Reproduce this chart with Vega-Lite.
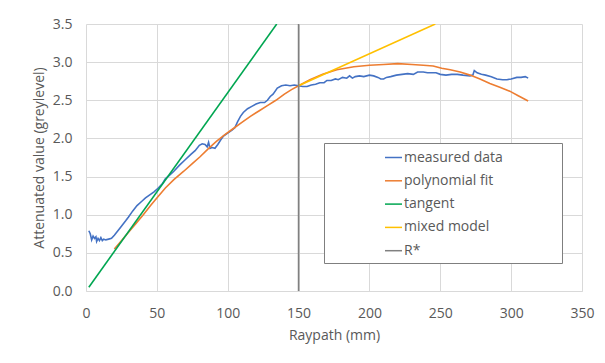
{
  "$schema": "https://vega.github.io/schema/vega-lite/v6.json",
  "width": 496,
  "height": 267,
  "autosize": {"type": "none"},
  "padding": {"left": 86, "top": 24, "right": 23, "bottom": 72},
  "background": "white",
  "config": {
    "view": {"stroke": null},
    "font": "Open Sans",
    "axis": {
      "labelFont": "Open Sans",
      "titleFont": "Open Sans",
      "labelFontSize": 14,
      "titleFontSize": 14,
      "labelColor": "#595959",
      "titleColor": "#595959",
      "titleFontWeight": "normal",
      "gridColor": "#d9d9d9",
      "gridWidth": 1,
      "domainColor": "#d9d9d9",
      "ticks": false,
      "labelFlush": false,
      "labelOverlap": false
    }
  },
  "data": {
    "values": [
      {"s": "measured data", "x": 2, "y": 0.79},
      {"s": "measured data", "x": 3, "y": 0.75},
      {"s": "measured data", "x": 4, "y": 0.67},
      {"s": "measured data", "x": 5, "y": 0.72},
      {"s": "measured data", "x": 6, "y": 0.69},
      {"s": "measured data", "x": 7, "y": 0.71},
      {"s": "measured data", "x": 7.5, "y": 0.65},
      {"s": "measured data", "x": 8.5, "y": 0.69},
      {"s": "measured data", "x": 9.5, "y": 0.66},
      {"s": "measured data", "x": 10.5, "y": 0.7},
      {"s": "measured data", "x": 11.5, "y": 0.66},
      {"s": "measured data", "x": 12.5, "y": 0.68},
      {"s": "measured data", "x": 14, "y": 0.67},
      {"s": "measured data", "x": 16, "y": 0.68},
      {"s": "measured data", "x": 18, "y": 0.69},
      {"s": "measured data", "x": 20, "y": 0.73},
      {"s": "measured data", "x": 22.5, "y": 0.79},
      {"s": "measured data", "x": 25, "y": 0.85},
      {"s": "measured data", "x": 28, "y": 0.92},
      {"s": "measured data", "x": 30, "y": 0.97},
      {"s": "measured data", "x": 33, "y": 1.05},
      {"s": "measured data", "x": 36, "y": 1.12},
      {"s": "measured data", "x": 39, "y": 1.17},
      {"s": "measured data", "x": 42, "y": 1.22},
      {"s": "measured data", "x": 45, "y": 1.26},
      {"s": "measured data", "x": 48, "y": 1.3},
      {"s": "measured data", "x": 51, "y": 1.35},
      {"s": "measured data", "x": 54, "y": 1.41},
      {"s": "measured data", "x": 56, "y": 1.47},
      {"s": "measured data", "x": 59, "y": 1.52},
      {"s": "measured data", "x": 62, "y": 1.57},
      {"s": "measured data", "x": 66, "y": 1.65},
      {"s": "measured data", "x": 70, "y": 1.72},
      {"s": "measured data", "x": 74, "y": 1.79},
      {"s": "measured data", "x": 77, "y": 1.84},
      {"s": "measured data", "x": 80, "y": 1.91},
      {"s": "measured data", "x": 82, "y": 1.93},
      {"s": "measured data", "x": 84, "y": 1.92},
      {"s": "measured data", "x": 85.5, "y": 1.89},
      {"s": "measured data", "x": 86.5, "y": 1.95},
      {"s": "measured data", "x": 87.5, "y": 1.87},
      {"s": "measured data", "x": 89, "y": 1.88},
      {"s": "measured data", "x": 91, "y": 1.87},
      {"s": "measured data", "x": 93, "y": 1.92},
      {"s": "measured data", "x": 95, "y": 1.98},
      {"s": "measured data", "x": 97, "y": 2.03},
      {"s": "measured data", "x": 100, "y": 2.07},
      {"s": "measured data", "x": 103, "y": 2.11},
      {"s": "measured data", "x": 105, "y": 2.14},
      {"s": "measured data", "x": 107, "y": 2.22},
      {"s": "measured data", "x": 109, "y": 2.29},
      {"s": "measured data", "x": 111, "y": 2.34},
      {"s": "measured data", "x": 114, "y": 2.39},
      {"s": "measured data", "x": 117, "y": 2.42},
      {"s": "measured data", "x": 120, "y": 2.45},
      {"s": "measured data", "x": 123, "y": 2.47},
      {"s": "measured data", "x": 126, "y": 2.47},
      {"s": "measured data", "x": 128, "y": 2.5},
      {"s": "measured data", "x": 130, "y": 2.55},
      {"s": "measured data", "x": 132, "y": 2.58},
      {"s": "measured data", "x": 135, "y": 2.66},
      {"s": "measured data", "x": 138, "y": 2.69},
      {"s": "measured data", "x": 141, "y": 2.7},
      {"s": "measured data", "x": 144, "y": 2.69},
      {"s": "measured data", "x": 147, "y": 2.7},
      {"s": "measured data", "x": 150, "y": 2.69},
      {"s": "measured data", "x": 153, "y": 2.68},
      {"s": "measured data", "x": 156, "y": 2.68},
      {"s": "measured data", "x": 159, "y": 2.7},
      {"s": "measured data", "x": 162, "y": 2.71},
      {"s": "measured data", "x": 165, "y": 2.73},
      {"s": "measured data", "x": 168, "y": 2.73},
      {"s": "measured data", "x": 170, "y": 2.76},
      {"s": "measured data", "x": 173, "y": 2.76},
      {"s": "measured data", "x": 176, "y": 2.78},
      {"s": "measured data", "x": 178, "y": 2.77},
      {"s": "measured data", "x": 181, "y": 2.8},
      {"s": "measured data", "x": 184, "y": 2.79},
      {"s": "measured data", "x": 186, "y": 2.82},
      {"s": "measured data", "x": 188, "y": 2.79},
      {"s": "measured data", "x": 190, "y": 2.81},
      {"s": "measured data", "x": 193, "y": 2.82},
      {"s": "measured data", "x": 196, "y": 2.81},
      {"s": "measured data", "x": 200, "y": 2.83},
      {"s": "measured data", "x": 203, "y": 2.82},
      {"s": "measured data", "x": 206, "y": 2.8},
      {"s": "measured data", "x": 208, "y": 2.78},
      {"s": "measured data", "x": 210, "y": 2.78},
      {"s": "measured data", "x": 212, "y": 2.8},
      {"s": "measured data", "x": 215, "y": 2.81},
      {"s": "measured data", "x": 219, "y": 2.83},
      {"s": "measured data", "x": 223, "y": 2.84},
      {"s": "measured data", "x": 227, "y": 2.85},
      {"s": "measured data", "x": 231, "y": 2.84},
      {"s": "measured data", "x": 234, "y": 2.87},
      {"s": "measured data", "x": 238, "y": 2.87},
      {"s": "measured data", "x": 241, "y": 2.86},
      {"s": "measured data", "x": 244, "y": 2.86},
      {"s": "measured data", "x": 247, "y": 2.86},
      {"s": "measured data", "x": 250, "y": 2.84},
      {"s": "measured data", "x": 254, "y": 2.83},
      {"s": "measured data", "x": 258, "y": 2.84},
      {"s": "measured data", "x": 262, "y": 2.84},
      {"s": "measured data", "x": 266, "y": 2.83},
      {"s": "measured data", "x": 271, "y": 2.82},
      {"s": "measured data", "x": 273, "y": 2.83},
      {"s": "measured data", "x": 274, "y": 2.89},
      {"s": "measured data", "x": 276, "y": 2.86},
      {"s": "measured data", "x": 279, "y": 2.84},
      {"s": "measured data", "x": 282, "y": 2.83},
      {"s": "measured data", "x": 286, "y": 2.81},
      {"s": "measured data", "x": 290, "y": 2.78},
      {"s": "measured data", "x": 294, "y": 2.77},
      {"s": "measured data", "x": 297, "y": 2.77},
      {"s": "measured data", "x": 300, "y": 2.78},
      {"s": "measured data", "x": 304, "y": 2.8},
      {"s": "measured data", "x": 307, "y": 2.8},
      {"s": "measured data", "x": 310, "y": 2.81},
      {"s": "measured data", "x": 312, "y": 2.79},
      {"s": "polynomial fit", "x": 20, "y": 0.55},
      {"s": "polynomial fit", "x": 25, "y": 0.66},
      {"s": "polynomial fit", "x": 30, "y": 0.77},
      {"s": "polynomial fit", "x": 35, "y": 0.88},
      {"s": "polynomial fit", "x": 40, "y": 0.99},
      {"s": "polynomial fit", "x": 46, "y": 1.13},
      {"s": "polynomial fit", "x": 50, "y": 1.22},
      {"s": "polynomial fit", "x": 56, "y": 1.35},
      {"s": "polynomial fit", "x": 62, "y": 1.46},
      {"s": "polynomial fit", "x": 69, "y": 1.57},
      {"s": "polynomial fit", "x": 75, "y": 1.67},
      {"s": "polynomial fit", "x": 80.5, "y": 1.76},
      {"s": "polynomial fit", "x": 86, "y": 1.86},
      {"s": "polynomial fit", "x": 92, "y": 1.96},
      {"s": "polynomial fit", "x": 98, "y": 2.05},
      {"s": "polynomial fit", "x": 104, "y": 2.13},
      {"s": "polynomial fit", "x": 110, "y": 2.21},
      {"s": "polynomial fit", "x": 116, "y": 2.29},
      {"s": "polynomial fit", "x": 122, "y": 2.36},
      {"s": "polynomial fit", "x": 128, "y": 2.43},
      {"s": "polynomial fit", "x": 134, "y": 2.5},
      {"s": "polynomial fit", "x": 140, "y": 2.58},
      {"s": "polynomial fit", "x": 145, "y": 2.64},
      {"s": "polynomial fit", "x": 150, "y": 2.69},
      {"s": "polynomial fit", "x": 158, "y": 2.77},
      {"s": "polynomial fit", "x": 167, "y": 2.84},
      {"s": "polynomial fit", "x": 177, "y": 2.9},
      {"s": "polynomial fit", "x": 189, "y": 2.94},
      {"s": "polynomial fit", "x": 200, "y": 2.96},
      {"s": "polynomial fit", "x": 210, "y": 2.97},
      {"s": "polynomial fit", "x": 220, "y": 2.98},
      {"s": "polynomial fit", "x": 230, "y": 2.97},
      {"s": "polynomial fit", "x": 238, "y": 2.96},
      {"s": "polynomial fit", "x": 245, "y": 2.95},
      {"s": "polynomial fit", "x": 251, "y": 2.92},
      {"s": "polynomial fit", "x": 257, "y": 2.9},
      {"s": "polynomial fit", "x": 264, "y": 2.87},
      {"s": "polynomial fit", "x": 271, "y": 2.83},
      {"s": "polynomial fit", "x": 278, "y": 2.78},
      {"s": "polynomial fit", "x": 285, "y": 2.72},
      {"s": "polynomial fit", "x": 292, "y": 2.67},
      {"s": "polynomial fit", "x": 299, "y": 2.62},
      {"s": "polynomial fit", "x": 305, "y": 2.56},
      {"s": "polynomial fit", "x": 312, "y": 2.49},
      {"s": "tangent", "x": 2, "y": 0.05},
      {"s": "tangent", "x": 134.6, "y": 3.5},
      {"s": "mixed model", "x": 150, "y": 2.69},
      {"s": "mixed model", "x": 246.5, "y": 3.5},
      {"s": "R*", "x": 150, "y": 0},
      {"s": "R*", "x": 150, "y": 3.5}
    ]
  },
  "mark": {"type": "line", "strokeWidth": 1.6, "clip": true},
  "encoding": {
    "x": {
      "field": "x",
      "type": "quantitative",
      "scale": {"domain": [0, 350], "nice": false},
      "axis": {
        "values": [0, 50, 100, 150, 200, 250, 300, 350],
        "title": "Raypath (mm)",
        "labelPadding": 15,
        "titlePadding": 8
      }
    },
    "y": {
      "field": "y",
      "type": "quantitative",
      "scale": {"domain": [0, 3.5], "nice": false},
      "axis": {
        "values": [0, 0.5, 1, 1.5, 2, 2.5, 3, 3.5],
        "format": ".1f",
        "title": "Attenuated value (greylevel)",
        "labelPadding": 14,
        "titlePadding": 6,
        "domain": false
      }
    },
    "color": {
      "field": "s",
      "type": "nominal",
      "scale": {
        "domain": ["measured data", "polynomial fit", "tangent", "mixed model", "R*"],
        "range": ["#4472C4", "#ED7D31", "#00A651", "#FFC000", "#808080"]
      },
      "legend": {
        "orient": "none",
        "legendX": 238,
        "legendY": 119,
        "title": "0000000",
        "titleOrient": "left",
        "titleFont": "Open Sans",
        "titleFontSize": 12.5,
        "titleFontWeight": "normal",
        "titleColor": "rgba(0,0,0,0)",
        "titlePadding": 4,
        "fillColor": "white",
        "strokeColor": "#7f7f7f",
        "padding": 5,
        "symbolType": "stroke",
        "symbolSize": 289,
        "symbolStrokeWidth": 1.5,
        "labelFont": "Open Sans",
        "labelFontSize": 14,
        "labelColor": "#595959",
        "labelOffset": 1,
        "labelLimit": 400,
        "labelExpr": "datum.label + pad('', 12, '\u00a0') + '\u2800'",
        "rowPadding": 6.3
      },
      "sort": null
    },
    "order": {"field": "x", "type": "quantitative"}
  }
}
